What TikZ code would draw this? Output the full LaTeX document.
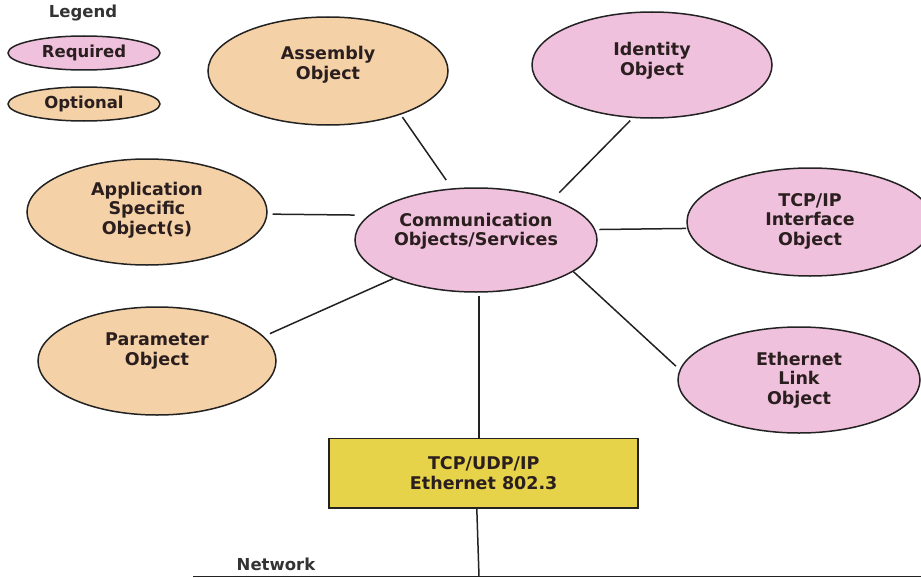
\documentclass[tikz,border=0pt]{standalone}
\usepackage{fontspec}
\setmainfont{DejaVu Sans}
\usetikzlibrary{shapes.geometric}
\definecolor{reqc}{RGB}{239,193,220}
\definecolor{optc}{RGB}{244,209,167}
\definecolor{ylwc}{RGB}{230,211,74}
\definecolor{linec}{RGB}{34,34,34}
\definecolor{txtc}{RGB}{42,30,30}
\definecolor{grayt}{RGB}{51,51,51}
\begin{document}
\begin{tikzpicture}[x=1pt,y=-1pt,
  font=\bfseries\fontsize{17.5}{19.5}\selectfont,
  small/.style={font=\bfseries\fontsize{16.5}{19.5}\selectfont},
  obj/.style={ellipse, draw=linec, line width=1.5pt, inner sep=0pt, text=txtc, align=center},
  txt/.style={align=center, text=txtc, inner sep=0pt},
  conn/.style={draw=linec, line width=1.5pt},
  plain/.style={text=grayt, inner sep=0pt}]
\useasboundingbox (0,0) rectangle (921,578);
% legend
\node[plain, small, anchor=base] (leg) at (83,18) {Legend};
\node[obj, small, fill=reqc, minimum width=152pt, minimum height=34pt] (lreq) at (84,53) {Required};
\node[obj, small, fill=optc, minimum width=152pt, minimum height=34pt] (lopt) at (84,104) {Optional};
% objects
\node[obj, fill=optc, minimum width=240pt, minimum height=108pt,
  label={[txt,yshift=6.5pt]center:Assembly\\Object}] (asm) at (328,71) {};
\node[obj, fill=reqc, minimum width=240pt, minimum height=106pt,
  label={[txt,yshift=4.5pt]center:Identity\\Object}] (idn) at (652,65) {};
\node[obj, fill=optc, minimum width=240pt, minimum height=106pt,
  label={[txt,yshift=2pt]center:Application\\Specific\\Object(s)}] (app) at (147,212) {};
\node[obj, fill=reqc, minimum width=242pt, minimum height=104pt,
  label={[txt,yshift=9pt]center:Communication\\Objects/Services}] (comm) at (476,240) {};
\node[obj, fill=reqc, minimum width=246pt, minimum height=108pt,
  label={[txt,yshift=1pt]center:TCP/IP\\Interface\\Object}] (tcp) at (810,222) {};
\node[obj, fill=optc, minimum width=238pt, minimum height=108pt,
  label={[txt,yshift=10pt]center:Parameter\\Object}] (par) at (157,361) {};
\node[obj, fill=reqc, minimum width=242pt, minimum height=106pt,
  label={[txt]center:Ethernet\\Link\\Object}] (eth) at (799,380) {};
\node[draw=linec, line width=1.5pt, fill=ylwc, minimum width=309pt, minimum height=69.5pt,
  inner sep=0pt, align=center, text=txtc] (box) at (483.7,473) {TCP/UDP/IP\\Ethernet 802.3};
% network
\coordinate (netL) at (193,576.5);
\coordinate (netR) at (921,576.5);
\coordinate (tap) at (479,576.5);
\node[plain, small, anchor=base] (netlbl) at (276,570) {Network};
% connectors
\draw[conn, shorten <=3pt, shorten >=10pt] (asm.-31) -- (comm.115);
\draw[conn, shorten <=3.5pt, shorten >=9pt] (idn.-110) -- (comm.28);
\draw[conn, shorten <=5pt, shorten >=14pt] (app.-1) -- (comm.167);
\draw[conn, shorten <=4pt, shorten >=1pt] (comm.5) -- (tcp.183.5);
\draw[conn, shorten <=6.5pt] (par.13.6) -- (comm.-155.5);
\draw[conn, shorten >=5pt] (comm.-18.6) -- (eth.175.9);
\draw[conn, shorten <=3pt] (comm.-87) -- (comm.-87 |- box.north);
\draw[conn] (box.-101) -- (tap);
\draw[conn] (netL) -- (netR);
\end{tikzpicture}
\end{document}
